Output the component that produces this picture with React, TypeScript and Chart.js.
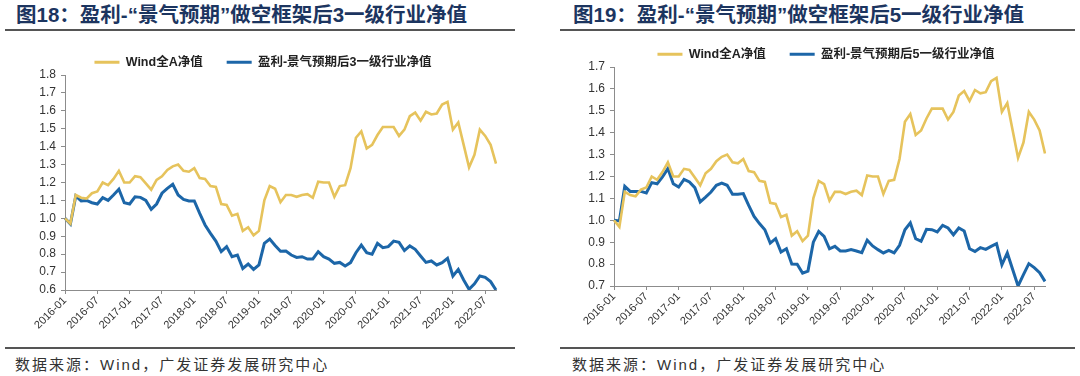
import React, { useEffect, useRef } from 'react';
import { Chart, registerables } from 'chart.js';
Chart.register(...registerables);

const months = [
  '2016-01','2016-02','2016-03','2016-04','2016-05','2016-06','2016-07','2016-08','2016-09','2016-10','2016-11','2016-12',
  '2017-01','2017-02','2017-03','2017-04','2017-05','2017-06','2017-07','2017-08','2017-09','2017-10','2017-11','2017-12',
  '2018-01','2018-02','2018-03','2018-04','2018-05','2018-06','2018-07','2018-08','2018-09','2018-10','2018-11','2018-12',
  '2019-01','2019-02','2019-03','2019-04','2019-05','2019-06','2019-07','2019-08','2019-09','2019-10','2019-11','2019-12',
  '2020-01','2020-02','2020-03','2020-04','2020-05','2020-06','2020-07','2020-08','2020-09','2020-10','2020-11','2020-12',
  '2021-01','2021-02','2021-03','2021-04','2021-05','2021-06','2021-07','2021-08','2021-09','2021-10','2021-11','2021-12',
  '2022-01','2022-02','2022-03','2022-04','2022-05','2022-06','2022-07','2022-08','2022-09',
];

const windA = [
  1.00, 0.97, 1.13, 1.115, 1.11, 1.14, 1.15, 1.20, 1.185, 1.22,
  1.265, 1.20, 1.20, 1.235, 1.23, 1.195, 1.16, 1.215, 1.235, 1.27,
  1.29, 1.30, 1.265, 1.26, 1.28, 1.225, 1.22, 1.18, 1.175, 1.08,
  1.075, 1.015, 1.025, 0.93, 0.95, 0.905, 0.93, 1.10, 1.18, 1.165,
  1.09, 1.13, 1.13, 1.12, 1.13, 1.135, 1.115, 1.205, 1.20, 1.20,
  1.12, 1.18, 1.185, 1.28, 1.45, 1.485, 1.39, 1.41, 1.465, 1.51,
  1.51, 1.51, 1.46, 1.495, 1.57, 1.59, 1.545, 1.595, 1.58, 1.585,
  1.635, 1.65, 1.495, 1.535, 1.41, 1.285, 1.355, 1.495, 1.46, 1.41, 1.305,
];

const top3 = [
  1.00, 0.968, 1.125, 1.097, 1.10, 1.087, 1.08, 1.115, 1.10, 1.13,
  1.162, 1.087, 1.08, 1.12, 1.117, 1.10, 1.05, 1.08, 1.14, 1.167,
  1.19, 1.13, 1.106, 1.097, 1.097, 1.028, 0.963, 0.916, 0.873, 0.814,
  0.842, 0.786, 0.795, 0.72, 0.745, 0.715, 0.74, 0.86, 0.884, 0.848,
  0.816, 0.818, 0.795, 0.782, 0.786, 0.773, 0.773, 0.814, 0.786, 0.773,
  0.749, 0.754, 0.734, 0.753, 0.808, 0.851, 0.808, 0.80, 0.86, 0.836,
  0.842, 0.873, 0.866, 0.82, 0.846, 0.827, 0.79, 0.754, 0.762, 0.74,
  0.753, 0.777, 0.678, 0.715, 0.656, 0.604, 0.634, 0.678, 0.671, 0.647, 0.60,
];

const top5 = [
  1.00, 0.997, 1.155, 1.132, 1.132, 1.132, 1.125, 1.172, 1.167, 1.198,
  1.236, 1.167, 1.152, 1.187, 1.175, 1.149, 1.084, 1.106, 1.129, 1.16,
  1.17, 1.16, 1.119, 1.119, 1.122, 1.068, 1.018, 0.985, 0.957, 0.896,
  0.916, 0.855, 0.87, 0.80, 0.799, 0.759, 0.768, 0.90, 0.949, 0.927,
  0.87, 0.881, 0.86, 0.86, 0.866, 0.86, 0.852, 0.909, 0.883, 0.866,
  0.851, 0.863, 0.851, 0.886, 0.957, 0.988, 0.916, 0.904, 0.959, 0.957,
  0.947, 0.977, 0.965, 0.934, 0.965, 0.951, 0.87, 0.858, 0.875, 0.867,
  0.881, 0.893, 0.797, 0.851, 0.775, 0.70, 0.752, 0.802, 0.784, 0.761, 0.721,
];

const windLabel = 'Wind全A净值';
const top3Label = '盈利-景气预期后3一级行业净值';
const top5Label = '盈利-景气预期后5一级行业净值';
const title18 = '图18：盈利-“景气预期”做空框架后3一级行业净值';
const title19 = '图19：盈利-“景气预期”做空框架后5一级行业净值';
const sourceText = '数据来源：Wind，广发证券发展研究中心';
const tickMonths = ['01', '07'];

const YELLOW = '#E6C35C';
const BLUE = '#1C66A8';
const AXIS = '#8C8C8C';
const FONT = '"Liberation Sans", Arial, "Noto Sans CJK SC", sans-serif';

type PanelProps = {
  strategy: number[];
  strategyLabel: string;
  yMin: number;
  yMax: number;
  legendHeight: number;
  legendDx: number;
  legendDy: number;
};

function LineChart({ strategy, strategyLabel, yMin, yMax, legendHeight, legendDx, legendDy }: PanelProps) {
  const ref = useRef<HTMLCanvasElement | null>(null);
  useEffect(() => {
    if (!ref.current) return;
    const fixLegend = {
      id: 'fixLegend',
      beforeUpdate(chart: any) {
        const lg = chart.legend;
        if (lg && !lg.__patched) {
          const origFit = lg.fit.bind(lg);
          lg.fit = function () {
            origFit();
            this.height = legendHeight;
          };
          const origDraw = lg.draw.bind(lg);
          lg.draw = function () {
            const ctx = this.ctx;
            ctx.save();
            ctx.translate(legendDx, legendDy);
            origDraw();
            ctx.restore();
          };
          lg.__patched = true;
        }
      },
    };
    const chart = new Chart(ref.current, {
      type: 'line',
      data: {
        labels: months,
        datasets: [
          {
            label: windLabel,
            data: windA,
            borderColor: YELLOW,
            backgroundColor: YELLOW,
            borderWidth: 2.6,
            pointRadius: 0,
            tension: 0,
          },
          {
            label: strategyLabel,
            data: strategy,
            borderColor: BLUE,
            backgroundColor: BLUE,
            borderWidth: 3,
            pointRadius: 0,
            tension: 0,
          },
        ],
      },
      options: {
        animation: false,
        responsive: true,
        maintainAspectRatio: false,
        layout: { padding: { left: 0, right: 4, top: 0, bottom: 0 } },
        plugins: {
          tooltip: { enabled: false },
          legend: {
            display: true,
            position: 'top',
            labels: {
              boxWidth: 25,
              boxHeight: 3,
              padding: 24,
              color: '#222',
              font: { family: FONT, size: 12.5, weight: 'bold' },
              generateLabels: (c: any) =>
                c.data.datasets.map((d: any, i: number) => ({
                  text: d.label,
                  fillStyle: d.borderColor,
                  strokeStyle: d.borderColor,
                  lineWidth: 0,
                  hidden: false,
                  datasetIndex: i,
                  fontColor: '#222',
                })),
            },
          },
        },
        scales: {
          x: {
            type: 'category',
            offset: false,
            afterFit: (s: any) => {
              s.height = 55;
            },
            border: { display: true, color: AXIS, width: 1 },
            grid: {
              display: true,
              drawOnChartArea: false,
              drawTicks: true,
              tickLength: 4,
              color: AXIS,
            },
            ticks: {
              autoSkip: false,
              maxRotation: 45,
              minRotation: 45,
              padding: 0,
              color: '#333',
              font: { family: FONT, size: 11 },
              callback: function (this: any, _v: any, idx: number) {
                const m = months[idx];
                return tickMonths.includes(m.slice(5)) ? m : null;
              },
            },
          },
          y: {
            min: yMin,
            max: yMax,
            afterFit: (s: any) => {
              s.width = 65;
            },
            border: { display: true, color: AXIS, width: 1 },
            grid: {
              display: true,
              drawOnChartArea: false,
              drawTicks: true,
              tickLength: 4,
              color: AXIS,
            },
            ticks: {
              stepSize: 0.1,
              padding: 5,
              color: '#333',
              font: { family: FONT, size: 12 },
              callback: (v: any) => Number(v).toFixed(1),
            },
          },
        },
      },
      plugins: [fixLegend],
    });
    return () => chart.destroy();
  }, [strategy, strategyLabel, yMin, yMax, legendHeight, legendDx, legendDy]);
  return <canvas ref={ref} />;
}

const titleStyle: React.CSSProperties = {
  position: 'absolute',
  top: 4,
  fontFamily: FONT,
  fontWeight: 'bold',
  fontSize: 20.5,
  lineHeight: '22px',
  color: '#1C3560',
  whiteSpace: 'nowrap',
};

const sourceStyle: React.CSSProperties = {
  position: 'absolute',
  top: 356,
  fontFamily: '"Liberation Sans", Arial, "Noto Sans CJK SC", sans-serif',
  fontSize: 15,
  lineHeight: '18px',
  letterSpacing: '2px',
  color: '#333',
  whiteSpace: 'nowrap',
};

const rule = (left: number, width: number, top: number): React.CSSProperties => ({
  position: 'absolute',
  left,
  width,
  top,
  height: 2,
  background: '#555',
});

export default function App() {
  return (
    <div style={{ position: 'absolute', left: 0, top: 0, width: 1080, height: 376, background: '#fff', overflow: 'hidden' }}>
      <div style={{ ...titleStyle, left: 16 }}>{title18}</div>
      <div style={rule(5, 510, 29)} />
      <div style={{ ...titleStyle, left: 573 }}>{title19}</div>
      <div style={rule(560, 515, 29)} />

      <div style={{ position: 'absolute', left: 0, top: 40, width: 500, height: 305 }}>
        <LineChart strategy={top3} strategyLabel={top3Label} yMin={0.6} yMax={1.8} legendHeight={35} legendDx={15} legendDy={-8} />
      </div>
      <div style={{ position: 'absolute', left: 549, top: 32, width: 500, height: 309 }}>
        <LineChart strategy={top5} strategyLabel={top5Label} yMin={0.7} yMax={1.7} legendHeight={35} legendDx={29} legendDy={-8} />
      </div>

      <div style={rule(5, 510, 347)} />
      <div style={rule(560, 515, 347)} />
      <div style={{ ...sourceStyle, left: 15 }}>{sourceText}</div>
      <div style={{ ...sourceStyle, left: 572 }}>{sourceText}</div>
    </div>
  );
}
